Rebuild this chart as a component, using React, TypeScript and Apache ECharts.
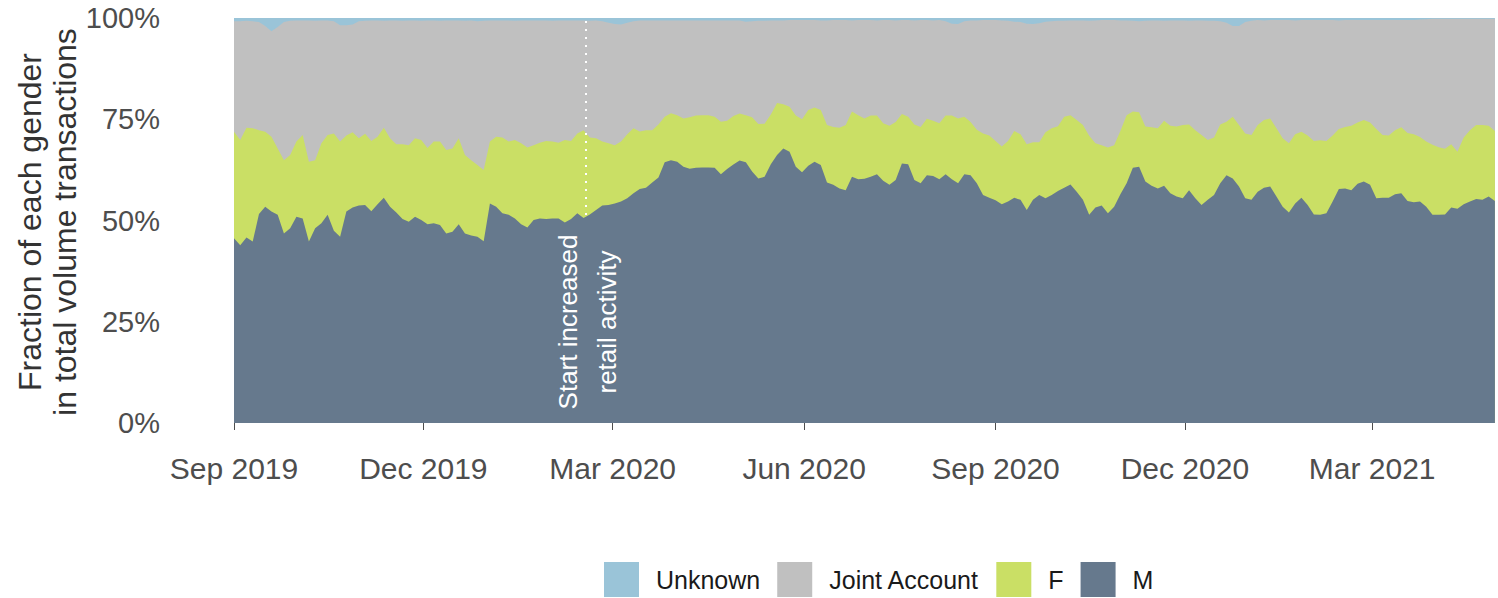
import React, { useEffect, useRef } from "react";
import * as echarts from "echarts";

// Sampling: one reading every 3 days starting 1 Sep 2019
const startDate = "2019-09-01";
const stepDays = 3;
const axisEndDate = "2021-04-30";

// M share (%)
const maleShare = [
  45.6, 43.9, 45.8, 44.8, 51.6, 53.4, 52.2, 51.4, 46.8, 48.1,
  50.9, 50.5, 44.8, 48.1, 49.3, 51.4, 47.5, 46.0, 52.2, 53.2,
  53.7, 53.8, 52.3, 54.0, 55.6, 53.4, 52.0, 50.4, 49.7, 50.9,
  50.1, 49.1, 49.3, 48.9, 46.8, 47.2, 49.1, 46.8, 46.3, 46.0,
  44.9, 54.2,
  53.4, 51.8, 51.4, 50.5, 49.1, 48.3, 50.1, 50.5, 50.4, 50.5,
  50.5, 49.5, 50.4, 51.8, 50.6, 51.5, 52.6, 53.7, 53.8, 54.2,
  54.7, 55.5, 56.7, 57.8, 58.1, 59.4, 60.6, 64.4, 64.9, 64.5,
  63.3, 62.8, 63.0, 63.1, 63.1, 63.0, 61.4, 62.7, 63.8, 64.8,
  64.4, 62.1, 60.4, 60.8, 63.9, 66.2, 67.8, 67.0, 63.3, 61.9,
  63.5, 64.5, 63.7, 59.4, 58.8, 57.9, 57.5, 60.8, 60.2, 60.3,
  60.8, 61.4, 59.8, 58.8, 60.0, 64.1, 63.9, 60.0, 59.2, 61.2,
  61.0, 60.2, 61.4, 60.2, 59.2, 61.4, 61.2, 59.2, 56.3, 55.6,
  55.0,
  54.0, 54.7, 55.6, 55.1, 52.6, 55.1, 56.3, 55.5, 56.3, 57.3,
  58.1, 58.9, 57.1, 55.1, 51.4, 53.2, 53.7, 51.8, 53.4, 56.5,
  59.2, 63.0, 63.3, 59.6, 58.6, 57.9, 58.6, 56.7, 55.9, 55.5,
  57.5, 55.5, 53.8, 55.1, 56.3, 59.2, 61.2, 60.4, 58.4, 55.5,
  55.1,
  57.1, 58.1, 58.4, 55.9, 53.4, 52.0, 54.2, 55.6, 53.8, 51.5,
  51.4, 51.8, 54.7, 57.8, 57.9, 57.5, 59.1, 59.6, 58.8, 55.5,
  55.6, 55.6, 56.5, 56.7, 54.8, 54.5, 54.7, 53.4, 51.4, 51.4,
  51.5, 53.2, 52.9, 54.0, 54.7, 55.3, 55.1, 55.9, 54.8,
];

// Upper edge of the F band (M + F, cumulative %)
const femaleUpperEdge = [
  71.9, 69.9, 72.9, 72.8, 72.3, 71.9, 70.7, 67.8, 64.9, 66.2,
  69.5, 71.1, 64.5, 64.9, 69.1, 71.1, 71.5, 69.5, 71.0, 71.8,
  70.3, 71.4, 69.6, 70.7, 72.9, 70.3, 68.8, 68.8, 68.6, 70.3,
  69.9, 67.9, 69.5, 69.5, 67.4, 67.8, 70.3, 66.2, 64.9, 63.7,
  62.5, 69.5,
  70.7, 70.5, 69.5, 69.9, 69.1, 68.0, 68.6, 69.2, 69.6, 69.5,
  69.2, 69.9, 69.6, 71.5, 72.3, 70.5, 70.3, 69.5, 69.1, 68.6,
  69.5, 71.3, 72.8, 72.0, 72.3, 72.3, 73.7, 75.6, 76.5, 76.0,
  75.2, 75.5, 75.9, 76.0, 76.0, 75.6, 74.4, 74.6, 75.8, 76.4,
  76.0, 75.5, 73.8, 73.9, 76.2, 79.0, 78.7, 78.1, 75.9, 75.0,
  77.3, 77.9, 77.3, 73.6, 73.1, 72.9, 73.6, 76.9, 76.0, 75.2,
  75.9, 75.9, 74.0, 73.4, 74.3, 76.3, 75.6, 73.7, 73.1, 75.1,
  74.6, 74.0, 75.9, 75.9, 75.2, 75.6, 74.3, 72.4, 71.5, 71.0,
  69.6,
  68.3, 69.6, 72.1, 71.3, 68.8, 69.3, 69.3, 71.8, 72.8, 73.3,
  75.6, 76.0, 74.8, 73.6, 70.9, 69.1, 68.6, 68.0, 68.6, 72.1,
  76.0, 76.9, 76.7, 73.2, 73.0, 72.8, 74.6, 73.4, 73.2, 73.6,
  73.7, 72.3, 71.1, 69.9, 70.5, 73.7, 74.4, 75.6, 73.6, 71.5,
  71.1,
  73.6, 74.8, 75.2, 72.8, 70.3, 69.1, 71.3, 71.9, 71.0, 69.6,
  69.8, 69.6, 71.0, 72.6, 73.1, 73.4, 74.2, 74.8, 74.2, 72.6,
  71.1, 71.0, 72.3, 73.0, 71.6, 71.3, 70.6, 69.5, 68.7, 68.1,
  67.7, 68.8, 67.0, 70.5, 72.3, 73.6, 73.6, 73.4, 72.1,
];

// Unknown share (%), the thin top band
const unknownShare = [
  0.8, 0.8, 0.7, 0.8, 1.0, 2.0, 3.3, 2.2, 1.0, 0.7,
  0.6, 0.6, 0.6, 0.7, 0.6, 0.6, 0.8, 1.8, 1.8, 1.6,
  0.8, 0.7, 0.6, 0.6, 0.7, 0.6, 0.6, 0.7, 0.6, 0.6,
  0.7, 0.6, 0.6, 0.7, 0.6, 0.6, 0.6, 0.7, 0.6, 0.8,
  0.7, 0.6,
  0.6, 0.6, 0.6, 0.7, 0.6, 0.6, 0.6, 0.6, 0.6, 0.7,
  0.6, 0.6, 0.6, 0.6, 0.6, 0.7, 0.6, 0.8, 1.2, 1.5,
  1.6, 1.2, 0.8, 0.6, 0.6, 0.6, 0.6, 0.6, 0.6, 0.6,
  0.6, 0.6, 0.6, 0.6, 0.6, 0.6, 0.6, 0.6, 0.6, 0.6,
  0.9, 0.8, 0.7, 0.7, 0.6, 0.6, 0.6, 0.5, 0.5, 0.5,
  0.5, 0.5, 0.6, 0.6, 0.5, 0.5, 0.5, 0.6, 0.5, 0.5,
  0.5, 0.6, 0.5, 0.5, 0.6, 0.5, 0.5, 0.6, 0.5, 0.5,
  0.6, 0.5, 0.8, 1.4, 1.5, 0.8, 0.6, 0.6, 0.5, 0.5,
  0.5,
  0.6, 0.7, 0.9, 1.0, 1.4, 1.5, 1.3, 0.9, 0.8, 0.7,
  0.7, 0.6, 0.6, 0.6, 0.7, 0.6, 0.5, 0.5, 0.5, 0.6,
  0.6, 0.7, 0.8, 0.7, 0.6, 0.6, 0.7, 0.6, 0.6, 0.6,
  0.7, 0.6, 0.6, 0.7, 0.7, 0.8, 1.2, 2.0, 2.0, 1.0,
  0.7,
  0.5, 0.6, 0.5, 0.5, 0.5, 0.5, 0.6, 0.5, 0.5, 0.5,
  0.5, 0.5, 0.5, 0.6, 0.5, 0.5, 0.5, 0.5, 0.5, 0.5,
  0.5, 0.5, 0.5, 0.5, 0.5, 0.5, 0.4, 0.3, 0.2, 0.2,
  0.2, 0.2, 0.2, 0.2, 0.2, 0.2, 0.2, 0.2, 0.2,
];

const tickDates = ["2019-09-01", "2019-12-01", "2020-03-01", "2020-06-01", "2020-09-01", "2020-12-01", "2021-03-01"];
const eventDate = "2020-02-17";
const eventLabelLeft = "Start increased";
const eventLabelRight = "retail activity";
const yTicks = [0, 25, 50, 75, 100];

const seriesNames = { unknown: "Unknown", joint: "Joint Account", f: "F", m: "M" };
const colors = { unknown: "#9AC4D8", joint: "#C0C0C0", f: "#CADF65", m: "#66798D" };
const monthNames = ["Jan", "Feb", "Mar", "Apr", "May", "Jun", "Jul", "Aug", "Sep", "Oct", "Nov", "Dec"];

const FONT = "'Liberation Sans', Arial, Helvetica, sans-serif";
const DAY = 86400000;

function ts(s: string): number {
  const [y, m, d] = s.split("-").map(Number);
  return Date.UTC(y, m - 1, d);
}
// days since startDate
function dayIndex(s: string): number {
  return Math.round((ts(s) - ts(startDate)) / DAY);
}

export default function App() {
  const ref = useRef<HTMLDivElement>(null);

  useEffect(() => {
    if (!ref.current) return;
    const chart = echarts.init(ref.current, null, { renderer: "svg" });
    const days = maleShare.map((_, i) => i * stepDays);

    // 100%-stacked bands, drawn as cumulative upper edges (each band is layered over the next one up)
    const mEdge = maleShare.map((v, i) => [days[i], v]);
    const fEdge = femaleUpperEdge.map((v, i) => [days[i], v]);
    const jEdge = unknownShare.map((u, i) => [days[i], +(100 - u).toFixed(2)]);
    const uEdge = unknownShare.map((u, i) => [days[i], 100]);

    const mk = (name: string, color: string, data: any[], z: number, extra: any = {}) => ({
      name,
      type: "line",
      data,
      z,
      showSymbol: false,
      symbol: "none",
      lineStyle: { width: 0, color },
      itemStyle: { color },
      areaStyle: { color, opacity: 1, origin: "start" },
      emphasis: { disabled: true },
      ...extra,
    });

    const fmt = (v: number) => {
      const d = new Date(ts(startDate) + v * DAY);
      return monthNames[d.getUTCMonth()] + " " + d.getUTCFullYear();
    };
    const tickDays = tickDates.map(dayIndex);

    chart.setOption({
      animation: false,
      grid: { left: 234, right: 1, top: 18, height: 405, containLabel: false },
      legend: {
        data: [seriesNames.unknown, seriesNames.joint, seriesNames.f, seriesNames.m],
        left: 604,
        top: 562,
        padding: 0,
        icon: "rect",
        itemWidth: 35,
        itemHeight: 35,
        itemGap: 17,
        textStyle: { fontSize: 25, color: "#1A1A1A", fontFamily: FONT, padding: [0, 0, 0, 12] },
        selectedMode: false,
      },
      xAxis: {
        type: "value",
        min: 0,
        max: dayIndex(axisEndDate),
        offset: 21,
        axisLine: { show: false },
        splitLine: { show: false },
        axisTick: {
          show: true,
          length: 7,
          lineStyle: { color: "#4D4D4D", width: 1 },
          customValues: tickDays,
        },
        axisLabel: {
          fontSize: 30,
          color: "#4D4D4D",
          fontFamily: FONT,
          margin: 9,
          customValues: tickDays,
          formatter: (v: number) => fmt(v),
          showMinLabel: true,
          showMaxLabel: true,
        },
      },
      yAxis: {
        type: "value",
        min: yTicks[0],
        max: yTicks[yTicks.length - 1],
        interval: 25,
        axisLine: { show: false },
        axisTick: { show: false },
        splitLine: { show: false },
        axisLabel: {
          fontSize: 29,
          color: "#4D4D4D",
          fontFamily: FONT,
          margin: 74,
          formatter: "{value}%",
        },
      },
      graphic: [
        {
          type: "text",
          x: 47,
          y: 222,
          rotation: Math.PI / 2,
          style: {
            text: "Fraction of each gender\nin total volume transactions",
            fontSize: 32,
            lineHeight: 35,
            fontFamily: FONT,
            fill: "#333333",
            align: "center",
            verticalAlign: "middle",
          },
        },
        {
          type: "text",
          x: 568,
          y: 322,
          rotation: Math.PI / 2,
          z: 100,
          style: {
            text: eventLabelLeft,
            fontSize: 26,
            fontFamily: FONT,
            fill: "#FFFFFF",
            align: "center",
            verticalAlign: "middle",
          },
        },
        {
          type: "text",
          x: 607,
          y: 322,
          rotation: Math.PI / 2,
          z: 100,
          style: {
            text: eventLabelRight,
            fontSize: 26,
            fontFamily: FONT,
            fill: "#FFFFFF",
            align: "center",
            verticalAlign: "middle",
          },
        },
      ],
      series: [
        mk(seriesNames.unknown, colors.unknown, uEdge, 2),
        mk(seriesNames.joint, colors.joint, jEdge, 3),
        mk(seriesNames.f, colors.f, fEdge, 4),
        mk(seriesNames.m, colors.m, mEdge, 5, {
          markLine: {
            silent: true,
            symbol: "none",
            label: { show: false },
            lineStyle: { color: "#FFFFFF", type: [2, 6], width: 2, opacity: 1 },
            data: [{ xAxis: dayIndex(eventDate) }],
          },
        }),
      ],
    });
    return () => chart.dispose();
  }, []);

  return (
    <div
      ref={ref}
      style={{ position: "absolute", left: 0, top: 0, width: "1498px", height: "598px" }}
    />
  );
}
